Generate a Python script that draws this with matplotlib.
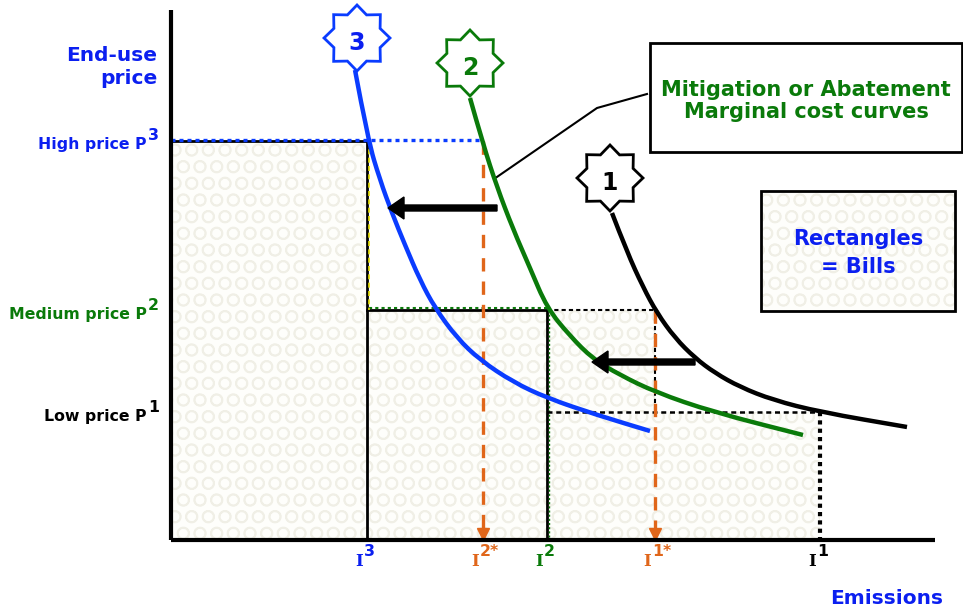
import numpy as np
import matplotlib.pyplot as plt
from matplotlib.path import Path
from matplotlib.patches import PathPatch, Rectangle, Polygon

# ---- data (emissions on x, end-use price on y, arbitrary units) ----
prices = {"P3": 399, "P2": 230, "P1": 128}
emis = {"I3": 196, "I2*": 312, "I2": 376, "I1*": 484, "I1": 649}

curve3_x = [184, 197, 209, 221, 234, 249, 264, 286, 309, 342, 376, 426, 479]
curve3_y = [470, 400, 360, 327, 295, 260, 232, 202, 180, 158, 142, 125, 109]

curve2_x = [299, 312, 326, 342, 359, 376, 399, 422, 449, 484, 542, 632]
curve2_y = [442, 396, 353, 311, 272, 232, 204, 181, 165, 148, 128, 105]

curve1_x = [441, 456, 472, 486, 504, 524, 544, 569, 602, 649, 736]
curve1_y = [327, 288, 253, 227, 202, 182, 167, 153, 140, 128, 113]

price_labels = ["High price P", "Medium price P", "Low price P"]
emis_labels = ["I3", "I2*", "I2", "I1*", "I1"]

BLUE = "#0a3cff"
TBLUE = "#0b1ff0"
GREEN = "#0a7a0a"
ORANGE = "#e0661a"
HATCH = "#f0efe6"


def smooth_path(xs, ys):
    pts = np.column_stack([xs, ys]).astype(float)
    verts = [pts[0]]
    codes = [Path.MOVETO]
    for i in range(1, len(pts) - 1):
        mid = (pts[i] + pts[i + 1]) / 2
        verts += [pts[i], mid]
        codes += [Path.CURVE3, Path.CURVE3]
    verts.append(pts[-1])
    codes.append(Path.LINETO)
    return Path(verts, codes)


def star(ax, cx, cy, color, label, r_out=33, r_in=25):
    ang = np.arange(16) * np.pi / 8 + np.pi / 2
    r = np.where(np.arange(16) % 2 == 0, r_out, r_in)
    pts = np.column_stack([cx + r * np.cos(ang), cy + r * np.sin(ang)])
    ax.add_patch(Polygon(pts, closed=True, facecolor="white", edgecolor=color, lw=2, zorder=6))
    ax.text(cx, cy - 5, label, color=color if color != BLUE else TBLUE, fontsize=17,
            fontweight="bold", ha="center", va="center", zorder=7)


def hatched_rect(ax, x0, y0, x1, y1, z=1):
    ax.add_patch(Rectangle((x0, y0), x1 - x0, y1 - y0, facecolor="#fefefb",
                           edgecolor=HATCH, hatch="O", lw=0, zorder=z))


plt.rcParams["hatch.linewidth"] = 1.2
fig = plt.figure(figsize=(9.63, 6.1), dpi=100)
ax = fig.add_axes([0, 0, 1, 1])
ax.set_xlim(-171, 792)
ax.set_ylim(-70, 540)
ax.axis("off")

P3, P2, P1 = prices["P3"], prices["P2"], prices["P1"]
I3, I2s, I2, I1s, I1 = [emis[k] for k in emis_labels]

# bill rectangles
hatched_rect(ax, 0, 0, I3, P3)
hatched_rect(ax, I3, 0, I2, P2)
hatched_rect(ax, I2, P1, I1s, P2)
hatched_rect(ax, I2, 0, I1, P1)

# rectangle borders
ax.plot([0, I3, I3], [P3, P3, 0], color="black", lw=2, zorder=3)
ax.plot([I3, I2, I2], [P2, P2, 0], color="black", lw=2, zorder=3)
ax.plot([I3 + 2, I2], [P2 + 2, P2 + 2], color=GREEN, lw=1.5, ls=(0, (1.5, 1.5)), zorder=3)
ax.plot([I2 + 2, I2 + 2], [P2, 0], color=GREEN, lw=1, ls=(0, (1.5, 1.5)), zorder=3)
ax.plot([I3 + 2, I3 + 2], [P3, P2], color="#e8e000", lw=1.2, ls=(0, (3, 2)), zorder=3)
ax.plot([I2, I1s, I1s], [P2, P2, P1], color="black", lw=1.5, ls=(0, (2, 1.5)), zorder=3)
ax.plot([I2, I1], [P1, P1], color="black", lw=1.8, ls=(0, (2, 1.5)), zorder=3)
ax.plot([I1, I1], [P1, 0], color="black", lw=3, ls=(0, (1, 1)), zorder=3)

# high price dotted line
ax.plot([0, I2s], [P3 + 1, P3 + 1], color=BLUE, lw=2.4, ls=(0, (1.2, 1.2)), zorder=4)

# orange projection lines
for xi, top in [(I2s, P3), (I1s, P2)]:
    ax.plot([xi, xi], [top, 10], color=ORANGE, lw=2.4, ls=(0, (4, 3)), zorder=4)
    ax.plot([xi], [6], marker="v", color=ORANGE, markersize=8, zorder=4)

# marginal cost curves
for xs, ys, c in [(curve3_x, curve3_y, BLUE), (curve2_x, curve2_y, GREEN), (curve1_x, curve1_y, "black")]:
    ax.add_patch(PathPatch(smooth_path(xs, ys), fill=False, edgecolor=c, lw=3.2,
                           capstyle="butt", zorder=5))

# shift arrows
ax.arrow(326, 332, -109, 0, width=6, head_width=22, head_length=16,
         length_includes_head=True, color="black", zorder=6)
ax.arrow(524, 178, -103, 0, width=6, head_width=22, head_length=16,
         length_includes_head=True, color="black", zorder=6)

# axes
ax.plot([0, 0], [0, 530], color="black", lw=3, zorder=6, solid_capstyle="butt")
ax.plot([0, 764], [0, 0], color="black", lw=3, zorder=6, solid_capstyle="butt")

# stars
star(ax, 186, 502, BLUE, "3")
star(ax, 299, 477, GREEN, "2")
star(ax, 439, 362, "black", "1")

# callout box
ax.plot([476, 426, 323], [446, 432, 361], color="black", lw=1.5, zorder=4)
ax.add_patch(Rectangle((479, 388), 312, 109, facecolor="white", edgecolor="black", lw=2, zorder=4))
ax.text(635, 439, "Mitigation or Abatement\nMarginal cost curves", color=GREEN,
        fontsize=15, fontweight="bold", ha="center", va="center", linespacing=1.15, zorder=5)

# legend box
hatched_rect(ax, 590, 229, 784, 349, z=4)
ax.add_patch(Rectangle((590, 229), 194, 120, fill=False, edgecolor="black", lw=2, zorder=4))
ax.text(687, 287, "Rectangles\n= Bills", color=TBLUE, fontsize=15, fontweight="bold",
        ha="center", va="center", linespacing=1.55, zorder=5)

# axis titles
ax.text(-14, 473, "End-use\nprice", color=TBLUE, fontsize=14.5, fontweight="bold",
        ha="right", va="center", multialignment="right", linespacing=1.25)
ax.text(716, -58, "Emissions", color=TBLUE, fontsize=14.5, fontweight="bold",
        ha="center", va="center")

# price labels
for lab, p, sup, c, dy in [(price_labels[0], P3, "3", TBLUE, 10), (price_labels[1], P2, "2", GREEN, 8),
                           (price_labels[2], P1, "1", "black", 9)]:
    ax.text(-24, p - 4, lab, color=c, fontsize=11.3, fontweight="bold", ha="right", va="center")
    ax.text(-23, p - 4 + dy, sup, color=c, fontsize=11.3, fontweight="bold", ha="left", va="center")

# emission labels
for key, c in [("I3", TBLUE), ("I2*", ORANGE), ("I2", GREEN), ("I1*", ORANGE), ("I1", "black")]:
    xi = emis[key]
    ax.text(xi - 8, -22, "I", color=c, fontsize=12, fontweight="bold", family="DejaVu Serif",
            ha="center", va="center")
    ax.text(xi - 3, -12, key[1:], color=c, fontsize=11.3, fontweight="bold", ha="left", va="center")

fig.savefig("out.png", dpi=100)
